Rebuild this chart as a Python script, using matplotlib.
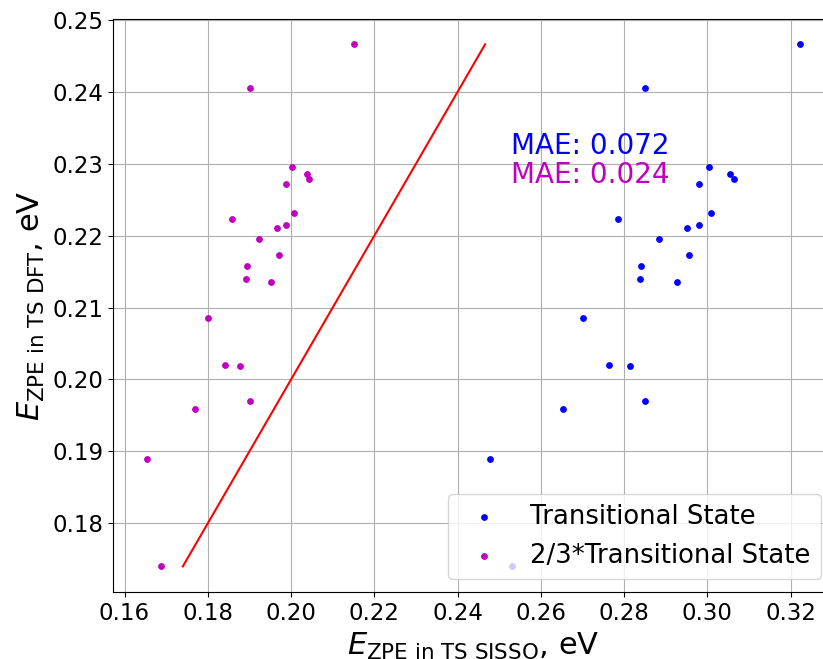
import matplotlib
matplotlib.use("Agg")
import matplotlib.pyplot as plt
import numpy as np

# Transitional State (SISSO x, DFT y)
ts_sisso = [0.3223, 0.2851, 0.3003, 0.3055, 0.3063, 0.2980, 0.3008, 0.2786,
            0.2950, 0.2979, 0.2883, 0.2955, 0.2840, 0.2838, 0.2926, 0.2700,
            0.2763, 0.2814, 0.2653, 0.2851, 0.2478, 0.2530]
ts_dft = [0.2466, 0.2405, 0.2295, 0.2286, 0.2279, 0.2272, 0.2232, 0.2223,
          0.2211, 0.2215, 0.2195, 0.2173, 0.2158, 0.2140, 0.2136, 0.2085,
          0.2020, 0.2019, 0.1959, 0.1970, 0.1890, 0.1740]
# 2/3 * Transitional State (SISSO x)
ts23_sisso = [0.2150, 0.1902, 0.2002, 0.2038, 0.2043, 0.1987, 0.2007, 0.1858,
              0.1967, 0.1987, 0.1922, 0.1971, 0.1894, 0.1892, 0.1952, 0.1801,
              0.1842, 0.1878, 0.1770, 0.1902, 0.1653, 0.1687]
mae_labels = ["MAE: 0.072", "MAE: 0.024"]
legend_labels = ["Transitional State", "2/3*Transitional State"]

W, H = 823, 659
fig = plt.figure(figsize=(W / 100, H / 100), dpi=100)
ax = fig.add_axes([113.3 / W, 66.7 / H, 720.7 / W, 573.1 / H])

ax.scatter(ts_sisso, ts_dft, s=15, color='b', label=legend_labels[0], zorder=3)
ax.scatter(ts23_sisso, ts_dft, s=15, color='m', label=legend_labels[1], zorder=3)
lo, hi = min(ts_dft), max(ts_dft)
ax.plot([lo, hi], [lo, hi], color='r', lw=1.5, zorder=2)

ax.set_xlim(0.1573, 0.3304)
ax.set_ylim(0.1704, 0.2501)
ax.set_xticks([0.16, 0.18, 0.20, 0.22, 0.24, 0.26, 0.28, 0.30, 0.32])
ax.set_yticks([0.18, 0.19, 0.20, 0.21, 0.22, 0.23, 0.24, 0.25])
ax.tick_params(labelsize=16.5)
ax.grid(True, zorder=0)
ax.set_axisbelow(True)

ax.text(0.2528, 0.2313, mae_labels[0], color='b', fontsize=20)
ax.text(0.2528, 0.2273, mae_labels[1], color='m', fontsize=20)

ax.set_xlabel(r'$E_{\mathrm{ZPE\ in\ TS\ SISSO}}$, eV', fontsize=22)
ax.set_ylabel(r'$E_{\mathrm{ZPE\ in\ TS\ DFT}}$, eV', fontsize=22)
ax.legend(loc='lower right', fontsize=18.6)

fig.savefig('out.png', dpi=100)
